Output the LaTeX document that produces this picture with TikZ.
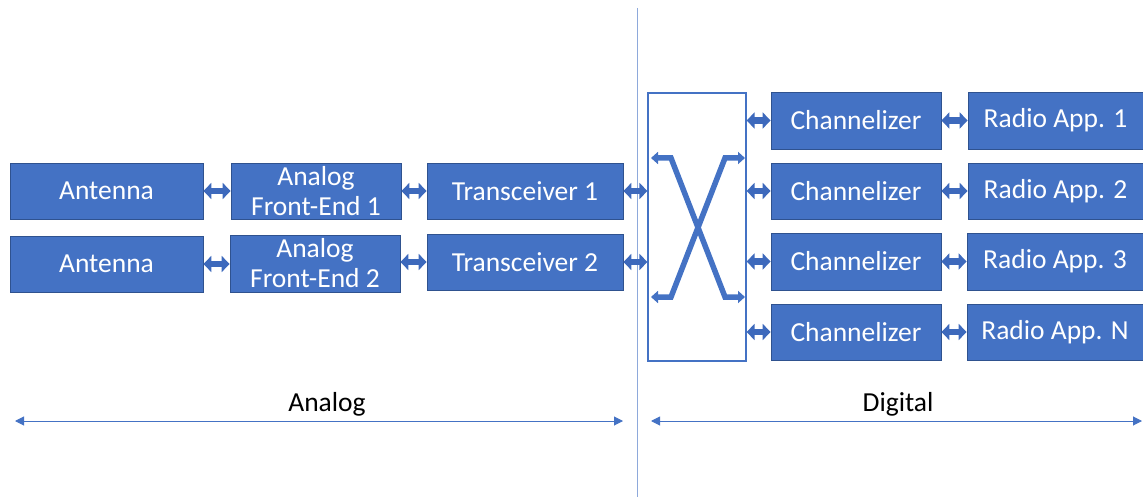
\documentclass[tikz,border=0pt]{standalone}
\usepackage{fontspec}
\setmainfont{Carlito}
\usetikzlibrary{arrows.meta,calc}
\definecolor{boxblue}{HTML}{4472C4}
\definecolor{boxedge}{HTML}{2F528F}
\definecolor{linkblue}{HTML}{3D69BC}
\definecolor{divider}{HTML}{8EA9DB}
\tikzset{
  block/.style={draw=boxedge, line width=0.8pt, fill=boxblue, text=white,
    inner sep=0pt, align=center, font=\fontsize{27.5}{30}\selectfont},
  link/.style={draw=linkblue, line width=6.5pt,
    {Triangle[length=8pt,width=16pt]}-{Triangle[length=8pt,width=16pt]}},
  cross/.style={draw=boxblue, line width=5.5pt,
    {Triangle[length=7pt,width=12pt]}-{Triangle[length=7pt,width=12pt]}},
  span/.style={draw=boxblue, line width=1pt,
    {Triangle[length=9pt,width=9pt]}-{Triangle[length=9pt,width=9pt]}},
  caption/.style={text=black, font=\fontsize{27.5}{30}\selectfont}
}
\begin{document}
\begin{tikzpicture}[x=1pt,y=-1pt]
\useasboundingbox (0,0) rectangle (1143,497);

% analog / digital divider
\coordinate (divtop) at (637,8);
\coordinate (divbot) at (637,497);
\draw[divider, line width=1pt] (divtop) -- (divbot);

% analog chain
\node[block, minimum width=193pt, minimum height=56pt] (ant1) at (106.5,191) {Antenna};
\node[block, minimum width=170pt, minimum height=56pt] (afe1) at (316,191) {Analog\\Front-End 1};
\node[block, minimum width=196pt, minimum height=56pt] (trx1) at (525,191) {Transceiver 1};
\node[block, minimum width=193pt, minimum height=56pt] (ant2) at (106.5,264) {Antenna};
\node[block, minimum width=170pt, minimum height=57pt] (afe2) at (315,263.5) {Analog\\Front-End 2};
\node[block, minimum width=196pt, minimum height=56pt] (trx2) at (525,262) {Transceiver 2};

% switch matrix
\node[draw=boxblue, line width=1.2pt, fill=white, minimum width=98pt, minimum height=268pt, inner sep=0pt] (sw) at (697,227) {};
\coordinate (xlt) at ($(sw.center)+(-46,-69)$);
\coordinate (xlk) at ($(sw.center)+(-26,-69)$);
\coordinate (xrb) at ($(sw.center)+(48,70)$);
\coordinate (xrk) at ($(sw.center)+(28,70)$);
\coordinate (xlb) at ($(sw.center)+(-46,70)$);
\coordinate (xlbk) at ($(sw.center)+(-26,70)$);
\coordinate (xrt) at ($(sw.center)+(48,-69)$);
\coordinate (xrtk) at ($(sw.center)+(28,-69)$);
\draw[cross] (xlt) -- (xlk) -- (xrk) -- (xrb);
\draw[cross] (xlb) -- (xlbk) -- (xrtk) -- (xrt);

% digital side
\node[block, minimum width=170pt, minimum height=57pt] (ch1) at (856,120.5) {Channelizer};
\node[block, minimum width=170pt, minimum height=56pt] (ch2) at (856,191) {Channelizer};
\node[block, minimum width=170pt, minimum height=57pt] (ch3) at (856,261.5) {Channelizer};
\node[block, minimum width=170pt, minimum height=56pt] (ch4) at (856,332) {Channelizer};
\node[block, minimum width=175pt, minimum height=57pt] (ra1) at (1055.5,120.5) {Radio App. 1};
\node[block, minimum width=175pt, minimum height=56pt] (ra2) at (1055.5,191) {Radio App. 2};
\node[block, minimum width=176pt, minimum height=57pt] (ra3) at (1055,261.5) {Radio App. 3};
\node[block, minimum width=176pt, minimum height=56pt] (ra4) at (1055,332) {Radio App. N};

% links between blocks
\draw[link] (ant1) -- (afe1);
\draw[link] (afe1) -- (trx1);
\draw[link] (ant2) -- (afe2.west |- ant2.east);
\draw[link] (afe2.east |- trx2.west) -- (trx2);
\draw[link] (trx1.east) -- (sw.west |- trx1.east);
\draw[link] (trx2.east) -- (sw.west |- trx2.east);
\foreach \i in {1,2,3,4}{
  \draw[link] (sw.east |- ch\i.west) -- (ch\i.west);
  \draw[link] (ch\i.east) -- (ra\i.west |- ch\i.east);
}

% domain spans
\coordinate (al) at (15,421);
\coordinate (ar) at (623,421);
\coordinate (dl) at (651,421);
\coordinate (dr) at (1142,421);
\draw[span] (al) -- (ar);
\draw[span] (dl) -- (dr);
\node[caption] (lanalog) at (327,404) {Analog};
\node[caption] (ldigital) at (898,404) {Digital};
\end{tikzpicture}
\end{document}
